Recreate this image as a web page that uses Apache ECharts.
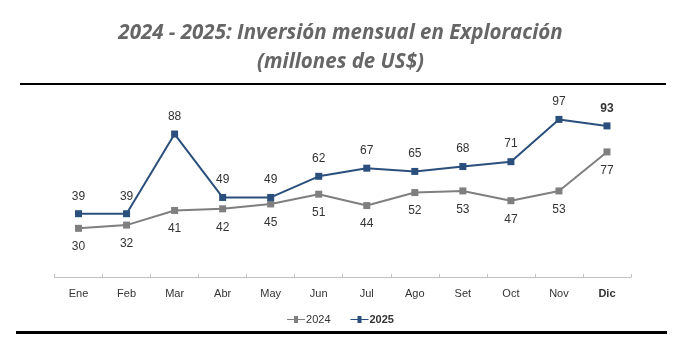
<!DOCTYPE html>
<html>
<head>
<meta charset="utf-8">
<script src="https://cdn.jsdelivr.net/npm/echarts@6/dist/echarts.min.js"></script>
<style>
	html, body { margin: 0; padding: 0; background: #fff; }
	#chart { width: 681px; height: 353px; }
</style>
</head>
<body>
<div id="chart"></div>
<script>
const months = ['Ene', 'Feb', 'Mar', 'Abr', 'May', 'Jun', 'Jul', 'Ago', 'Set', 'Oct', 'Nov', 'Dic'];
const values2024 = [30, 32, 41, 42, 45, 51, 44, 52, 53, 47, 53, 77];
const values2025 = [39, 39, 88, 49, 49, 62, 67, 65, 68, 71, 97, 93];

const narrow = '"Liberation Sans Narrow", "Arial Narrow", "Liberation Sans", Arial, sans-serif';
const grey = '#7f7f7f';
const blue = '#2a4f7c';

const chart = echarts.init(document.getElementById('chart'), null, { renderer: 'canvas' });

// the last point of each series gets a bold label
const withBoldLast = (arr) => arr.map((v, i) => i === arr.length - 1
	? { value: v, label: { fontWeight: 'bold' } }
	: v);

const option = {
	animation: false,
	title: {
		text: '2024 - 2025: Inversión mensual en Exploración\n(millones de US$)',
		left: 'center',
		top: 14,
		textStyle: {
			fontFamily: '"Open Sans", sans-serif',
			fontStyle: 'italic',
			fontWeight: 'bold',
			fontSize: 20.5,
			lineHeight: 29,
			color: '#666666',
		},
	},
	graphic: [
		{ type: 'rect', shape: { x: 20, y: 83, width: 646, height: 2 }, style: { fill: '#000' } },
		{ type: 'rect', shape: { x: 16, y: 331, width: 651, height: 3 }, style: { fill: '#000' } },
	],
	legend: {
		bottom: 23,
		left: 'center',
		itemGap: 20,
		itemWidth: 18,
		itemHeight: 7,
		textStyle: { fontFamily: narrow, fontSize: 11, color: '#333', padding: [0, 0, 0, -4] },
		data: [
			{ name: '2024', icon: 'path://M0,3h7v-3h4v3h7v1h-7v3h-4v-3h-7z' },
			{ name: '2025', icon: 'path://M0,3h7v-3h4v3h7v1h-7v3h-4v-3h-7z', textStyle: { fontWeight: 'bold' } },
		],
	},
	grid: {
		left: 54.5,
		right: 50,
		top: 82,
		height: 200,
	},
	xAxis: {
		type: 'category',
		data: months.map((m, i) => i === months.length - 1 ? { value: m, textStyle: { fontWeight: 'bold' } } : m),
		boundaryGap: true,
		axisLine: { lineStyle: { color: '#bfbfbf', width: 1 } },
		axisTick: { show: true, inside: true, length: 3, lineStyle: { color: '#bfbfbf' } },
		axisLabel: { fontFamily: narrow, fontSize: 11, color: '#333', margin: 6 },
	},
	yAxis: {
		type: 'value',
		min: -3,
		max: 120,
		show: false,
		splitLine: { show: false },
	},
	series: [
		{
			name: '2024',
			type: 'line',
			data: values2024,
			symbol: 'rect',
			symbolSize: 7,
			itemStyle: { color: grey },
			lineStyle: { color: grey, width: 2 },
			label: {
				show: true,
				position: 'bottom',
				distance: 9,
				fontFamily: narrow,
				fontSize: 12,
				color: '#333',
			},
		},
		{
			name: '2025',
			type: 'line',
			data: withBoldLast(values2025),
			symbol: 'rect',
			symbolSize: 7,
			itemStyle: { color: blue },
			lineStyle: { color: blue, width: 2 },
			label: {
				show: true,
				position: 'top',
				distance: 8,
				fontFamily: narrow,
				fontSize: 12,
				color: '#333',
			},
		},
	],
};

chart.setOption(option);
</script>
</body>
</html>
